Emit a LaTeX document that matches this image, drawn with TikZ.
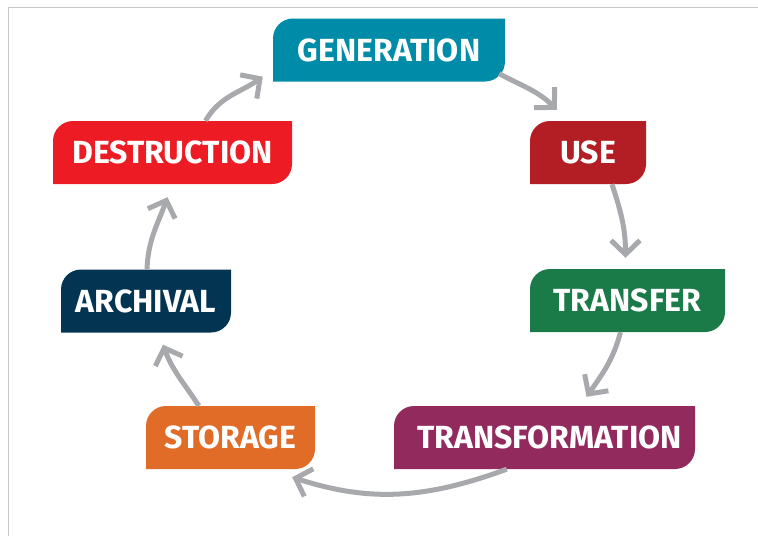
\documentclass[tikz,border=0pt]{standalone}
\usepackage{fontspec}
\setmainfont{Fira Sans}
\usetikzlibrary{arrows.meta}
\definecolor{cgen}{HTML}{008CA8}
\definecolor{cuse}{HTML}{B21E23}
\definecolor{ctransfer}{HTML}{1A7A48}
\definecolor{ctransform}{HTML}{922A5E}
\definecolor{cstorage}{HTML}{E06C28}
\definecolor{carchival}{HTML}{033452}
\definecolor{cdestr}{HTML}{ED1C24}
\definecolor{carrow}{HTML}{A7A9AC}
\definecolor{cframe}{HTML}{C8C8C8}
\tikzset{
  leafbox/.style={minimum height=63pt, inner sep=0pt, text=white,
    font=\fontsize{32}{32}\selectfont\bfseries,
    path picture={\fill[#1] (path picture bounding box.south west)
      -- ([yshift=-20pt]path picture bounding box.north west)
      arc[start angle=180, end angle=90, radius=20pt]
      -- (path picture bounding box.north east)
      -- ([yshift=20pt]path picture bounding box.south east)
      arc[start angle=0, end angle=-90, radius=20pt] -- cycle;}},
  cyclearrow/.style={draw=carrow, line width=5pt,
    -{Straight Barb[length=14pt, width=29pt, sharp]}},
  frameline/.style={draw=cframe, line width=1.5pt}
}
\begin{document}
\begin{tikzpicture}[x=1pt, y=1pt]
\useasboundingbox (0,0) rectangle (758,-536);
\draw[frameline] (8.5,-536) -- (8.5,-7.5) -- (758,-7.5);

\node[leafbox=cgen, minimum width=232pt] (gen) at (389,-50) {GENERATION};
\node[leafbox=cuse, minimum width=116pt] (use) at (588,-152.5) {USE};
\node[leafbox=ctransfer, minimum width=195pt] (transfer) at (627.5,-300.5) {TRANSFER};
\node[leafbox=ctransform, minimum width=301pt] (transform) at (544.5,-437.5) {\hspace*{10pt}TRANSFORMATION};
\node[leafbox=cstorage, minimum width=169pt] (storage) at (230.5,-437.5) {STORAGE};
\node[leafbox=carchival, minimum width=170pt] (archival) at (146,-301) {ARCHIVAL};
\node[leafbox=cdestr, minimum width=239pt] (destr) at (172.5,-152.5) {DESTRUCTION};

\draw[cyclearrow] ([shift={(-6,8)}]gen.south east) to[out=-28, in=135] ([shift={(27,11)}]use.north west);
\draw[cyclearrow] ([xshift=24]use.south) to[out=-72, in=90] ([shift={(-2,11)}]transfer.north);
\draw[cyclearrow] ([xshift=-7]transfer.south) to[out=-105, in=55] ([shift={(42,9)}]transform.north);
\draw[cyclearrow] ([xshift=113]transform.south west) to[out=200, in=-18] ([shift={(-23,-8)}]storage.south east);
\draw[cyclearrow] ([xshift=53]storage.north west) to[out=123, in=-70] ([shift={(17,-12)}]archival.south);
\draw[cyclearrow] ([xshift=1]archival.north) to[out=88, in=-110] ([shift={(-5,-13)}]destr.south);
\draw[cyclearrow] ([xshift=33]destr.north) to[out=60, in=-145] ([shift={(-10,5)}]gen.south west);
\end{tikzpicture}
\end{document}
